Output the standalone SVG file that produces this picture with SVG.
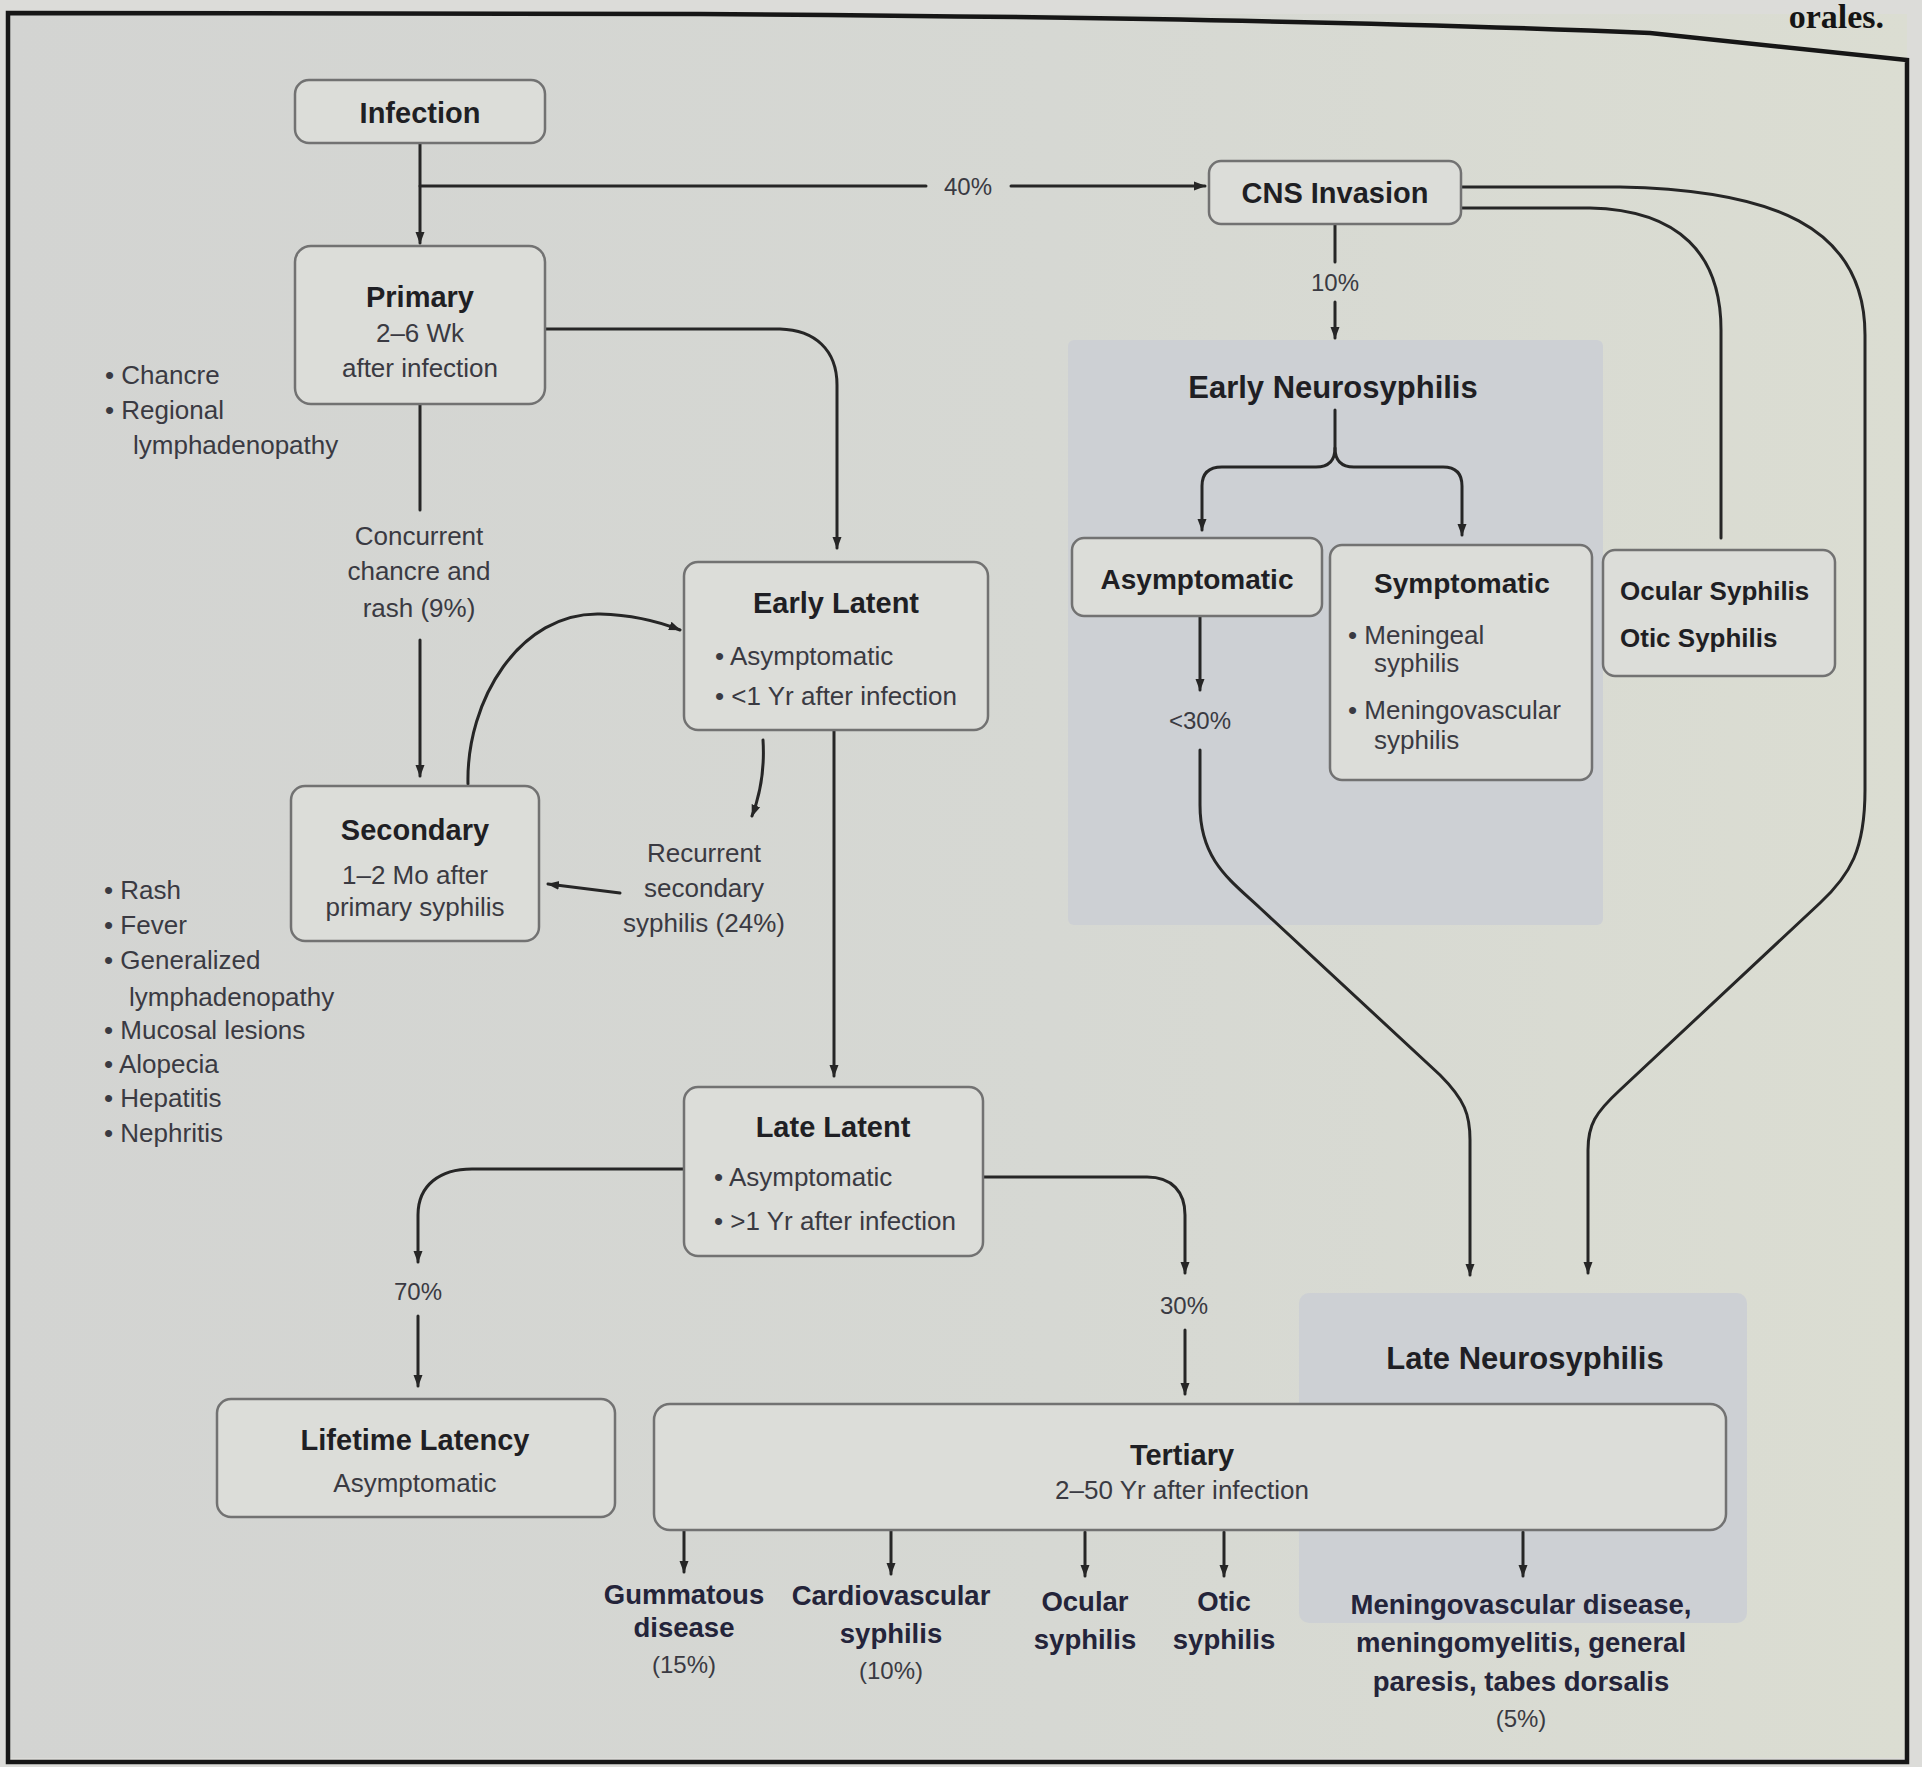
<svg xmlns="http://www.w3.org/2000/svg" width="1922" height="1767" viewBox="0 0 1922 1767">
<defs>
<linearGradient id="bg" x1="0" y1="0" x2="1" y2="0">
<stop offset="0" stop-color="#d3d4d2"/>
<stop offset="0.55" stop-color="#d6d8d3"/>
<stop offset="1" stop-color="#dbddd2"/>
</linearGradient>
<marker id="ah" viewBox="0 0 12 10" refX="11" refY="5" markerWidth="12" markerHeight="10" markerUnits="userSpaceOnUse" orient="auto">
<path d="M0,0.5 L12,5 L0,9.5 z" fill="#262626"/>
</marker>
<style>
.box{fill:#dcddd9;stroke:#727272;stroke-width:2.5}
.panel{fill:#cdd0d4}
.t{font-family:"Liberation Sans",Arial,sans-serif;fill:#1f1f24}
.b{font-weight:700;font-size:29px}
.h{font-weight:700;font-size:31px}
.s{font-size:26px;fill:#3a3a42}
.p{font-size:24px;fill:#3a3a42}
.o{font-weight:700;font-size:27.5px;fill:#24243a}
.m{text-anchor:middle}
.c{stroke:#262626;stroke-width:3;fill:none;stroke-linecap:round}
.a{marker-end:url(#ah)}
.frame{stroke:#161616;stroke-width:4.5;fill:none}
</style>
</defs>
<rect x="0" y="0" width="1922" height="1767" fill="#dcdcd9"/>
<rect x="8" y="14" width="1899" height="1744" fill="url(#bg)"/>
<text x="1884" y="28" font-family="'Liberation Serif','Times New Roman',serif" font-weight="700" font-size="34" text-anchor="end" fill="#151515">orales.</text>

<g id="panels">
<rect id="early-neuro-panel" class="panel" x="1068" y="340" width="535" height="585" rx="6"/>
<rect id="late-neuro-panel" class="panel" x="1299" y="1293" width="448" height="330" rx="10"/>
</g>

<g id="connectors">
<path class="c a" d="M420,143 V243"/>
<path class="c" d="M420,186 H926"/>
<path class="c a" d="M1011,186 H1205"/>
<path class="c" d="M1335,224 V262"/>
<path class="c a" d="M1335,302 V338"/>
<path class="c a" d="M1335,410 V448 Q1335,467 1316,467 H1222 Q1202,467 1202,486 V530"/>
<path class="c a" d="M1335,448 Q1335,467 1354,467 H1443 Q1462,467 1462,486 V535"/>
<path class="c a" d="M1461,187 H1620 C1770,190 1865,225 1865,335 V790 C1865,850 1850,875 1820,903 L1620,1090 C1595,1113 1588,1125 1588,1150 V1273"/>
<path class="c" d="M1461,208 H1590 C1680,210 1721,255 1721,330 V538"/>
<path class="c a" d="M545,329 H780 C815,330 837,350 837,385 V548"/>
<path class="c" d="M420,405 V510"/>
<path class="c a" d="M420,640 V776"/>
<path class="c a" d="M468,784 C466,700 520,612 600,614 C635,615 660,622 680,630"/>
<path class="c a" d="M763,740 C765,772 760,795 752,816"/>
<path class="c a" d="M620,893 L548,884"/>
<path class="c a" d="M834,730 V1076"/>
<path class="c a" d="M684,1169 H472 C440,1169 418,1185 418,1215 V1262"/>
<path class="c a" d="M418,1316 V1386"/>
<path class="c a" d="M983,1177 H1147 C1172,1177 1185,1192 1185,1215 V1273"/>
<path class="c a" d="M1185,1330 V1394"/>
<path class="c a" d="M1200,616 V690"/>
<path class="c a" d="M1200,750 V805 C1200,860 1230,880 1260,908 L1440,1075 C1465,1100 1470,1115 1470,1140 V1275"/>
<path class="c a" d="M684,1530 V1572"/>
<path class="c a" d="M891,1530 V1574"/>
<path class="c a" d="M1085,1532 V1576"/>
<path class="c a" d="M1224,1532 V1576"/>
<path class="c a" d="M1523,1532 V1576"/>
</g>

<g id="infection">
<rect class="box" x="295" y="80" width="250" height="63" rx="14"/>
<text class="t b m" x="420" y="123">Infection</text>
</g>
<g id="primary">
<rect class="box" x="295" y="246" width="250" height="158" rx="16"/>
<text class="t b m" x="420" y="307">Primary</text>
<text class="t s m" x="420" y="342">2–6 Wk</text>
<text class="t s m" x="420" y="377">after infection</text>
</g>
<g id="cns-invasion">
<rect class="box" x="1209" y="161" width="252" height="63" rx="12"/>
<text class="t b m" x="1335" y="203">CNS Invasion</text>
</g>
<g id="early-latent">
<rect class="box" x="684" y="562" width="304" height="168" rx="14"/>
<text class="t b m" x="836" y="613">Early Latent</text>
<text class="t s" x="715" y="665">• Asymptomatic</text>
<text class="t s" x="715" y="705">• &lt;1 Yr after infection</text>
</g>
<g id="secondary">
<rect class="box" x="291" y="786" width="248" height="155" rx="14"/>
<text class="t b m" x="415" y="840">Secondary</text>
<text class="t s m" x="415" y="884">1–2 Mo after</text>
<text class="t s m" x="415" y="916">primary syphilis</text>
</g>
<g id="late-latent">
<rect class="box" x="684" y="1087" width="299" height="169" rx="14"/>
<text class="t b m" x="833" y="1137">Late Latent</text>
<text class="t s" x="714" y="1186">• Asymptomatic</text>
<text class="t s" x="714" y="1230">• &gt;1 Yr after infection</text>
</g>
<g id="lifetime-latency">
<rect class="box" x="217" y="1399" width="398" height="118" rx="14"/>
<text class="t b m" x="415" y="1450">Lifetime Latency</text>
<text class="t s m" x="415" y="1492">Asymptomatic</text>
</g>
<g id="tertiary">
<rect class="box" x="654" y="1404" width="1072" height="126" rx="16"/>
<text class="t b m" x="1182" y="1465">Tertiary</text>
<text class="t s m" x="1182" y="1499">2–50 Yr after infection</text>
</g>
<g id="asymptomatic">
<rect class="box" x="1072" y="538" width="250" height="78" rx="12"/>
<text class="t b m" x="1197" y="589" style="font-size:28px">Asymptomatic</text>
</g>
<g id="symptomatic">
<rect class="box" x="1330" y="545" width="262" height="235" rx="12"/>
<text class="t b m" x="1462" y="593" style="font-size:28px">Symptomatic</text>
<text class="t s" x="1348" y="644">• Meningeal</text>
<text class="t s" x="1374" y="672">syphilis</text>
<text class="t s" x="1348" y="719">• Meningovascular</text>
<text class="t s" x="1374" y="749">syphilis</text>
</g>
<g id="ocular-otic">
<rect class="box" x="1603" y="550" width="232" height="126" rx="12"/>
<text class="t b" x="1620" y="600" style="font-size:26px">Ocular Syphilis</text>
<text class="t b" x="1620" y="647" style="font-size:26px">Otic Syphilis</text>
</g>

<g id="labels">
<text class="t h m" x="1333" y="398">Early Neurosyphilis</text>
<text class="t h m" x="1525" y="1369">Late Neurosyphilis</text>
<text class="t p m" x="968" y="195">40%</text>
<text class="t p m" x="1335" y="291">10%</text>
<text class="t p m" x="1200" y="729">&lt;30%</text>
<text class="t p m" x="418" y="1300">70%</text>
<text class="t p m" x="1184" y="1314">30%</text>
<text class="t s m" x="419" y="545">Concurrent</text>
<text class="t s m" x="419" y="580">chancre and</text>
<text class="t s m" x="419" y="617">rash (9%)</text>
<text class="t s m" x="704" y="862">Recurrent</text>
<text class="t s m" x="704" y="897">secondary</text>
<text class="t s m" x="704" y="932">syphilis (24%)</text>
</g>

<g id="primary-signs">
<text class="t s" x="105" y="384">• Chancre</text>
<text class="t s" x="105" y="419">• Regional</text>
<text class="t s" x="133" y="454">lymphadenopathy</text>
</g>
<g id="secondary-signs">
<text class="t s" x="104" y="899">• Rash</text>
<text class="t s" x="104" y="934">• Fever</text>
<text class="t s" x="104" y="969">• Generalized</text>
<text class="t s" x="129" y="1006">lymphadenopathy</text>
<text class="t s" x="104" y="1039">• Mucosal lesions</text>
<text class="t s" x="104" y="1073">• Alopecia</text>
<text class="t s" x="104" y="1107">• Hepatitis</text>
<text class="t s" x="104" y="1142">• Nephritis</text>
</g>

<g id="outcomes">
<text class="t o m" x="684" y="1604">Gummatous</text>
<text class="t o m" x="684" y="1637">disease</text>
<text class="t p m" x="684" y="1673">(15%)</text>
<text class="t o m" x="891" y="1605">Cardiovascular</text>
<text class="t o m" x="891" y="1643">syphilis</text>
<text class="t p m" x="891" y="1679">(10%)</text>
<text class="t o m" x="1085" y="1611">Ocular</text>
<text class="t o m" x="1085" y="1649">syphilis</text>
<text class="t o m" x="1224" y="1611">Otic</text>
<text class="t o m" x="1224" y="1649">syphilis</text>
<text class="t o m" x="1521" y="1614">Meningovascular disease,</text>
<text class="t o m" x="1521" y="1652">meningomyelitis, general</text>
<text class="t o m" x="1521" y="1691">paresis, tabes dorsalis</text>
<text class="t p m" x="1521" y="1727">(5%)</text>
</g>

<g id="frame">
<path class="frame" d="M8,13 L700,14 Q1300,18 1650,33 L1907,60 V1762 H8 Z"/>
</g>
</svg>
